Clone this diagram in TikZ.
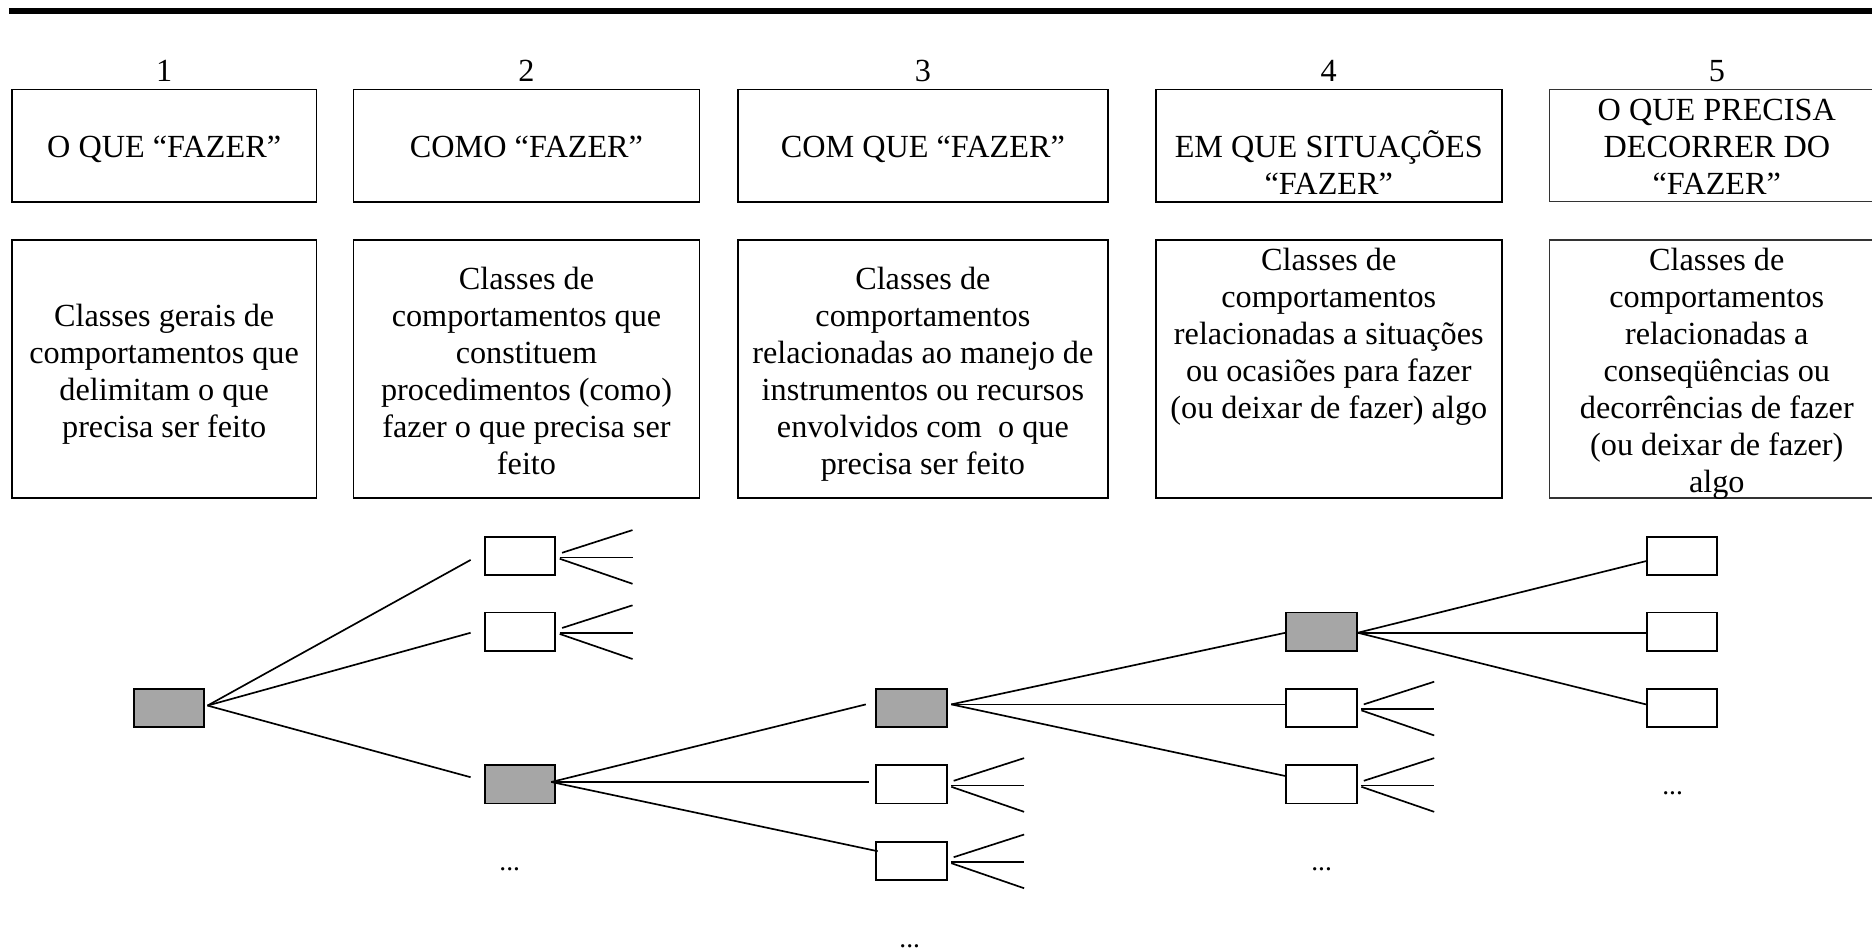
\documentclass[tikz,border=0pt]{standalone}
\usepackage{fontspec}
\setmainfont{Liberation Serif}
\definecolor{boxgray}{RGB}{166,166,166}
\newcommand\tstrut{\rule{0pt}{24pt}}
\newcommand\fanout[1]{%
  \coordinate (#1-t) at ([shift={(64,-22)}]#1.east);
  \coordinate (#1-m) at ([shift={(64,1)}]#1.east);
  \coordinate (#1-b) at ([shift={(64,23)}]#1.east);
  \draw[link] ([shift={(5,-3)}]#1.east) -- (#1-t);
  \draw[link] ([shift={(3,1)}]#1.east) -- (#1-m);
  \draw[link] ([shift={(3,2)}]#1.east) -- (#1-b);
}
\begin{document}
\begin{tikzpicture}[x=1pt,y=-1pt,
  bigbox/.style={draw, line width=1.4pt, inner sep=0pt},
  hbox/.style={bigbox, minimum height=94pt},
  lbox/.style={bigbox, minimum height=216pt},
  txt/.style={font=\fontsize{27}{31}\selectfont, align=center, inner sep=0pt, anchor=north},
  num/.style={font=\fontsize{27}{31}\selectfont, inner sep=0pt, anchor=base},
  sbox/.style={draw, line width=1.6pt, minimum width=59pt, minimum height=32pt, inner sep=0pt},
  gbox/.style={sbox, fill=boxgray},
  wbox/.style={sbox, fill=white},
  link/.style={line width=1.4pt},
  dots/.style={font=\fontsize{23}{28}\selectfont, inner sep=0pt}
]
\useasboundingbox (0,0) rectangle (1568,796.6);
\clip (0,0) rectangle (1568,796.6);
\fill[white] (0,0) rectangle (1568,796.6);

% top rule
\coordinate (rl) at (7.5,9.3);
\coordinate (rr) at (1570,9.3);
\draw[line width=4.5pt] (rl) -- (rr);

% numbers
\node[num] (n1) at (137.5,68.5) {1};
\node[num] (n2) at (441,68.5) {2};
\node[num] (n3) at (773,68.5) {3};
\node[num] (n4) at (1113,68.5) {4};
\node[num] (n5) at (1438,68.5) {5};

% header boxes
\node[hbox, minimum width=255pt] (h1) at (137.5,122) {};
\node[hbox, minimum width=290pt] (h2) at (441,122) {};
\node[hbox, minimum width=310pt] (h3) at (773,122) {};
\node[hbox, minimum width=290pt] (h4) at (1113,122) {};
\node[hbox, minimum width=280pt, draw=black!80, line width=1.1pt] (h5) at (1438,122) {};

\node[txt] (t1) at (137.5,108) {\tstrut O QUE “FAZER”};
\node[txt] (t2) at (441,108) {\tstrut COMO “FAZER”};
\node[txt] (t3) at (773,108) {\tstrut COM QUE “FAZER”};
\node[txt] (t4) at (1113,108) {\tstrut EM QUE SITUAÇÕES\\“FAZER”};
\node[txt] (t5) at (1438,77) {\tstrut O QUE PRECISA\\DECORRER DO\\“FAZER”};

% lower boxes
\node[lbox, minimum width=255pt] (l1) at (137.5,309) {};
\node[lbox, minimum width=290pt] (l2) at (441,309) {};
\node[lbox, minimum width=310pt] (l3) at (773,309) {};
\node[lbox, minimum width=290pt] (l4) at (1113,309) {};
\node[lbox, minimum width=280pt, draw=black!80, line width=1.1pt] (l5) at (1438,309) {};

\node[txt] (u1) at (137.5,249) {\tstrut Classes gerais de\\comportamentos que\\delimitam o que\\precisa ser feito};
\node[txt] (u2) at (441,218) {\tstrut Classes de\\comportamentos que\\constituem\\procedimentos (como)\\fazer o que precisa ser\\feito};
\node[txt] (u3) at (773,218) {\tstrut Classes de\\comportamentos\\relacionadas ao manejo de\\instrumentos ou recursos\\envolvidos com\ \ o que\\precisa ser feito};
\node[txt] (u4) at (1113,202) {\tstrut Classes de\\comportamentos\\relacionadas a situações\\ou ocasiões para fazer\\(ou deixar de fazer) algo};
\node[txt] (u5) at (1438,202) {\tstrut Classes de\\comportamentos\\relacionadas a\\conseqüências ou\\decorrências de fazer\\(ou deixar de fazer)\\algo};

% tree
\node[gbox] (A) at (141.5,593) {};
\node[wbox] (B1) at (435.5,466) {};
\node[wbox] (B2) at (435.5,529) {};
\node[gbox] (B3) at (435.5,657) {};
\node[gbox] (C1) at (763.5,593) {};
\node[wbox] (C2) at (763.5,657) {};
\node[wbox] (C3) at (763.5,721) {};
\node[gbox] (D1) at (1107,529) {};
\node[wbox] (D2) at (1107,593) {};
\node[wbox] (D3) at (1107,657) {};
\node[wbox] (E1) at (1409,466) {};
\node[wbox] (E2) at (1409,529) {};
\node[wbox] (E3) at (1409,593) {};

\node[dots] (dB) at (427,728.5) {...};
\node[dots] (dC) at (762,792.5) {...};
\node[dots] (dD) at (1107,728.5) {...};
\node[dots] (dE) at (1401,664.5) {...};

\draw[link] ([shift={(2,-2)}]A.east) -- ([shift={(-11,3)}]B1.west);
\draw[link] ([shift={(2,-2)}]A.east) -- ([shift={(-11,1)}]B2.west);
\draw[link] ([shift={(2,-2)}]A.east) -- ([shift={(-11,-6)}]B3.west);

\draw[link] ([shift={(-4,-2)}]B3.east) -- ([shift={(-8,-3)}]C1.west);
\draw[link] ([shift={(-4,-2)}]B3.east) -- ([shift={(-5,-2)}]C2.west);
\draw[link] ([shift={(-4,-2)}]B3.east) -- ([shift={(2,-8)}]C3.west);

\draw[link] ([shift={(3,-3)}]C1.east) -- ([shift={(0,1)}]D1.west);
\draw[link] ([shift={(3,-3)}]C1.east) -- ([shift={(0,-3)}]D2.west);
\draw[link] ([shift={(3,-3)}]C1.east) -- ([shift={(0,-7)}]D3.west);

\draw[link] ([shift={(0,1)}]D1.east) -- ([shift={(0,4)}]E1.west);
\draw[link] ([shift={(0,1)}]D1.east) -- ([shift={(0,1)}]E2.west);
\draw[link] ([shift={(0,1)}]D1.east) -- ([shift={(0,-3)}]E3.west);

\fanout{B1}
\fanout{B2}
\fanout{C2}
\fanout{C3}
\fanout{D2}
\fanout{D3}
\end{tikzpicture}
\end{document}
